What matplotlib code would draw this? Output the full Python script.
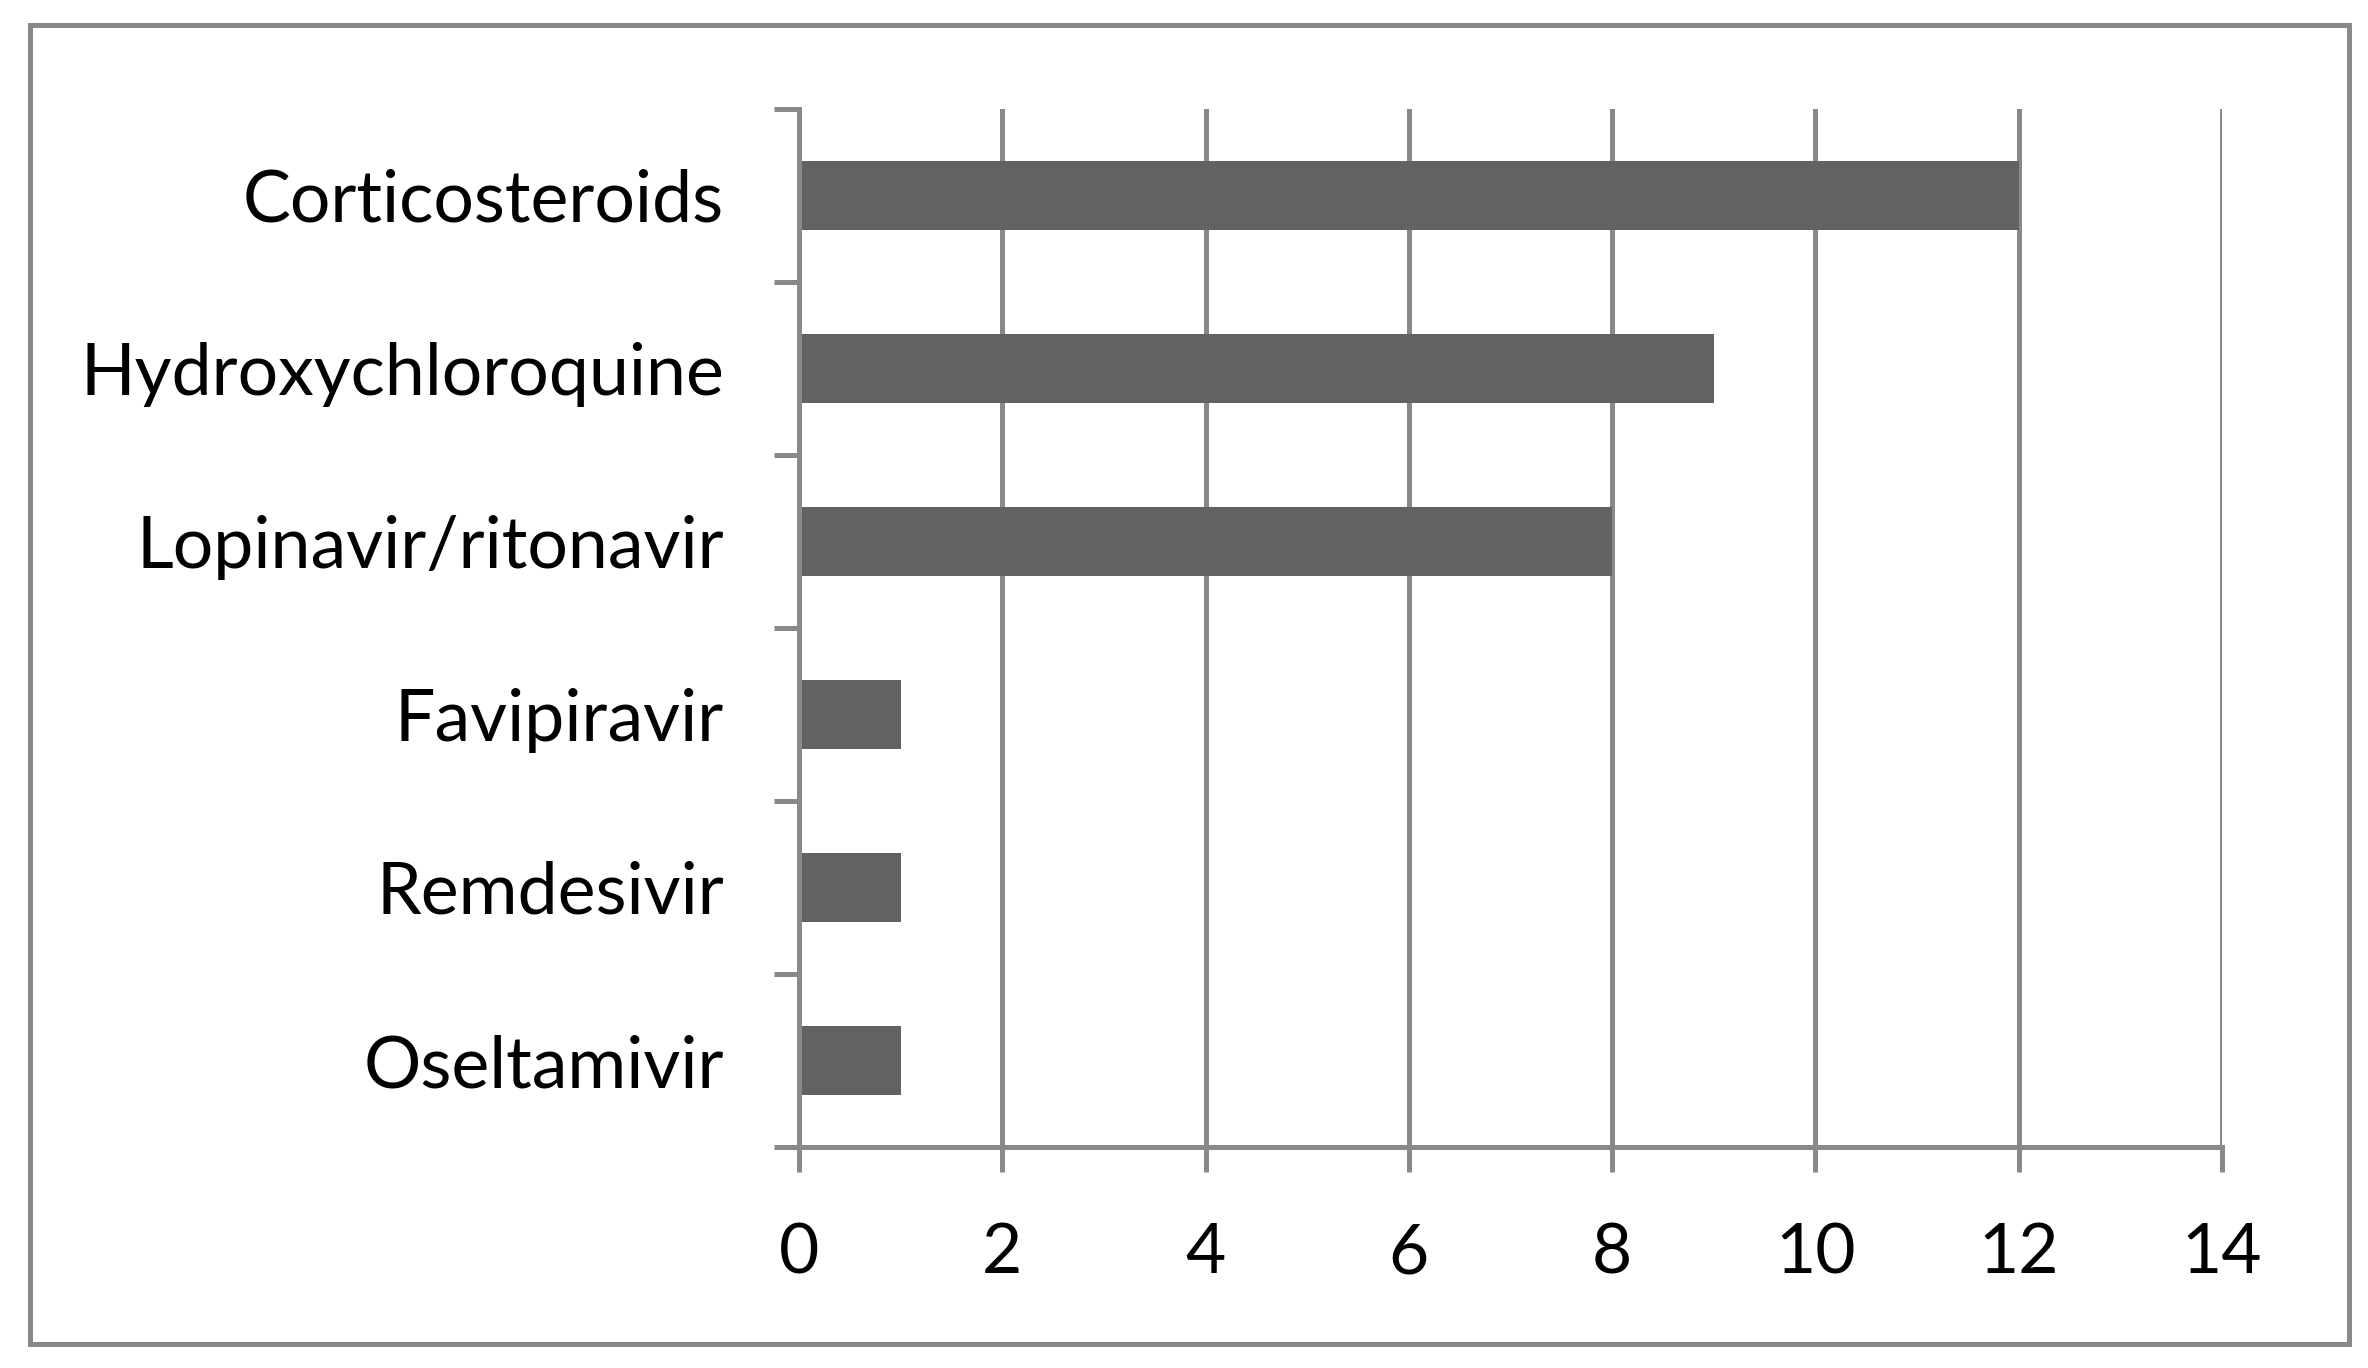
import matplotlib
matplotlib.use("Agg")
import matplotlib.pyplot as plt
from matplotlib.patches import Rectangle
import numpy as np

categories = ["Corticosteroids", "Hydroxychloroquine", "Lopinavir/ritonavir",
              "Favipiravir", "Remdesivir", "Oseltamivir"]
values = [12, 9, 8, 1, 1, 1]
xticks = [0, 2, 4, 6, 8, 10, 12, 14]

plt.rcParams['font.family'] = ['Lato', 'DejaVu Sans']
GRAY = "#898989"
BAR = "#626262"
DPI = 200
fig = plt.figure(figsize=(2368 / DPI, 1368 / DPI), dpi=DPI)
ax = fig.add_axes([799 / 2368, 221 / 1368, (2222 - 799) / 2368, (1147 - 109) / 1368])

y = np.arange(len(categories))
ax.barh(y, values, height=0.4, color=BAR, zorder=3)
ax.set_xlim(0, 14)
ax.set_ylim(len(categories) - 0.5, -0.5)
ax.set_xticks(xticks)
ax.set_xticklabels([str(t) for t in xticks])
ax.set_yticks(y)
ax.set_yticklabels(categories)
ax.set_yticks(np.arange(-0.5, len(categories)), minor=True)
ax.tick_params(axis='y', which='major', length=0, pad=27, labelsize=25.8)
ax.tick_params(axis='y', which='minor', length=9, width=1.8, color=GRAY, direction='out')
ax.tick_params(axis='x', which='major', length=9, width=1.8, color=GRAY, direction='out', pad=18, labelsize=25)
ax.xaxis.grid(True, color=GRAY, linewidth=1.8, zorder=1)
ax.set_axisbelow(True)
for s in ['top', 'right']:
    ax.spines[s].set_visible(False)
for s in ['left', 'bottom']:
    ax.spines[s].set_color(GRAY)
    ax.spines[s].set_linewidth(1.8)
    ax.spines[s].set_zorder(4)

border = Rectangle((29.5 / 2368, (1368 - 1343.5) / 1368), (2349 - 29.5) / 2368, (1343.5 - 24.5) / 1368,
                   transform=fig.transFigure, fill=False, edgecolor=GRAY, linewidth=1.8)
fig.patches.append(border)

fig.savefig("out.png", dpi=DPI, facecolor="white")
